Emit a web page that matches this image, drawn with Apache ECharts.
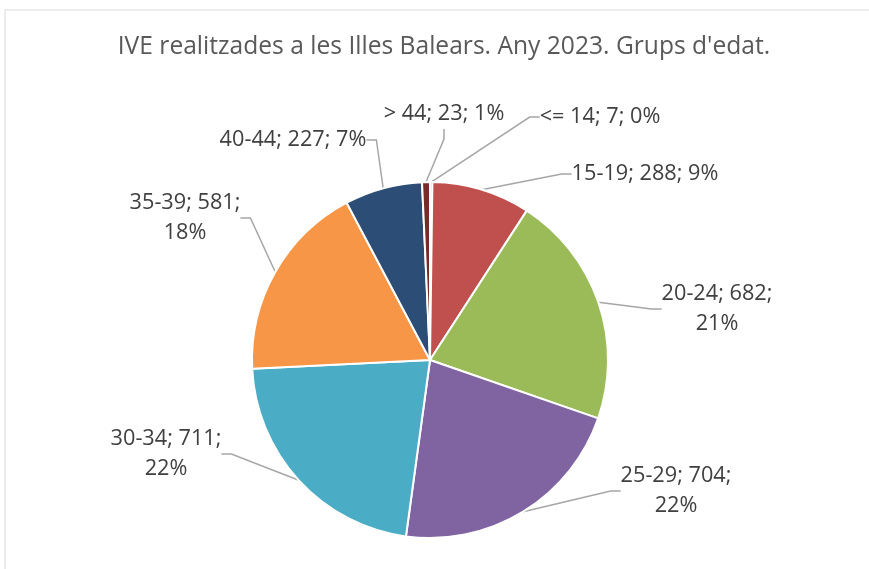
<!DOCTYPE html>
<html>
<head>
<meta charset="utf-8">
<script src="https://cdn.jsdelivr.net/npm/echarts@6/dist/echarts.min.js"></script>
<style>
  html, body { margin: 0; padding: 0; background: #fff; }
  #chart { width: 869px; height: 569px; }
</style>
</head>
<body>
<div id="chart"></div>
<script>
// dades
const categories = ['<= 14', '15-19', '20-24', '25-29', '30-34', '35-39', '40-44', '> 44'];
const values = [7, 288, 682, 704, 711, 581, 227, 23];
const colors = ['#4F81BD', '#C0504D', '#9BBB59', '#8064A2', '#4BACC6', '#F79646', '#2C4D75', '#772C2A'];

// etiquetes que Excel parteix en dues línies
const wrapped = [2, 3, 4, 5];
// posició (centre) de cada etiqueta
const labelPos = [
  [600, 117], [645, 174], [717, 309], [676, 491],
  [166, 454], [185, 218], [293, 140], [444, 114]
];

const chart = echarts.init(document.getElementById('chart'), null, { renderer: 'canvas' });

const option = {
  animation: false,
  graphic: [{
    type: 'rect',
    shape: { x: 5, y: 10, width: 900, height: 600 },
    style: { fill: 'none', stroke: '#d9d9d9', lineWidth: 1 },
    silent: true
  }],
  title: {
    text: "IVE realitzades a les Illes Balears. Any 2023. Grups d'edat.",
    left: 439,
    textAlign: 'center',
    top: 29,
    textStyle: { fontFamily: 'Open Sans', fontSize: 24.6, fontWeight: 'normal', color: '#595959' }
  },
  series: [{
    type: 'pie',
    center: [430, 360],
    radius: 178,
    startAngle: 90,
    clockwise: true,
    percentPrecision: 0,
    data: categories.map((c, i) => ({ name: c, value: values[i], itemStyle: { color: colors[i] } })),
    itemStyle: { borderColor: '#fff', borderWidth: 2 },
    label: {
      show: true,
      position: 'outside',
      fontFamily: 'Open Sans',
      fontSize: 21.7,
      lineHeight: 30,
      color: '#404040',
      align: 'center',
      formatter: (p) => wrapped.includes(p.dataIndex)
        ? `${p.name}; ${p.value};\n${p.percent}%`
        : `${p.name}; ${p.value}; ${p.percent}%`
    },
    labelLine: {
      show: true,
      length: 10,
      length2: 10,
      lineStyle: { color: '#a6a6a6', width: 1.5 }
    },
    labelLayout: (params) => ({
      x: labelPos[params.dataIndex][0],
      y: labelPos[params.dataIndex][1],
      align: 'center',
      verticalAlign: 'middle'
    }),
    emphasis: { disabled: true }
  }]
};

chart.setOption(option);
</script>
</body>
</html>
